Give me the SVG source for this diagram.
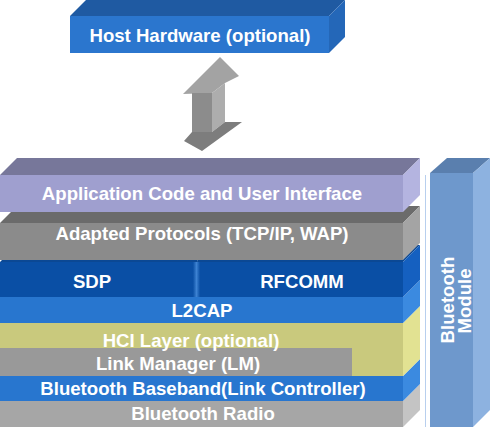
<svg xmlns="http://www.w3.org/2000/svg" width="490" height="427" viewBox="0 0 490 427">
<defs>
<linearGradient id="div" x1="0" y1="0" x2="1" y2="0">
<stop offset="0" stop-color="#0a4fa5"/>
<stop offset="0.5" stop-color="#3d82d2"/>
<stop offset="1" stop-color="#0a4fa5"/>
</linearGradient>
</defs>
<style>
text{font-family:"Liberation Sans",Arial,sans-serif;font-weight:bold;font-size:18.6px;fill:#ffffff;text-anchor:middle}
</style>
<rect width="490" height="427" fill="#ffffff"/>

<g id="host-hardware">
<polygon points="70,16 86,0 345,0 329,16" fill="#1f5aa2"/>
<polygon points="329,16 345,0 345,37 329,53" fill="#2467b8"/>
<rect x="70" y="16" width="259" height="37" fill="#2b76ce"/>
<text x="200" y="42">Host Hardware (optional)</text>
</g>

<g id="connectors">
<g id="host-stack-arrow">
<polygon points="183,94 220,57 239,76 225,83 212,93" fill="#a3a3a3"/>
<rect x="192" y="93" width="20" height="40" fill="#8c8c8c"/>
<polygon points="212,93 225,83 225,122 212,132" fill="#adadad"/>
<polygon points="184,141 192,132 212,132 225,122 242,122 202,151" fill="#7d7d7d"/>
</g>
</g>

<g id="bluetooth-radio">
<polygon points="403,401 420,384 420,410 403,427" fill="#c4c4c4"/>
<rect x="0" y="401" width="403" height="26" fill="#a6a6a6"/>
<text x="203" y="420">Bluetooth Radio</text>
</g>

<g id="bluetooth-baseband">
<polygon points="403,376 420,359 420,384 403,401" fill="#3b8ae0"/>
<rect x="0" y="376" width="403" height="25" fill="#2876cf"/>
<text x="203" y="395">Bluetooth Baseband(Link Controller)</text>
</g>

<g id="hci-layer">
<polygon points="403,323 420,306 420,359 403,376" fill="#e2e292"/>
<rect x="0" y="323" width="403" height="53" fill="#c9c97d"/>
</g>

<g id="link-manager">
<rect x="0" y="348" width="352" height="28" fill="#999999"/>
<text x="178" y="370">Link Manager (LM)</text>
</g>

<g id="hci-label">
<text x="191" y="347">HCI Layer (optional)</text>
</g>

<g id="l2cap">
<polygon points="403,297 420,280 420,306 403,323" fill="#3b8ae0"/>
<rect x="0" y="297" width="403" height="26" fill="#2876cf"/>
<text x="202" y="317">L2CAP</text>
</g>

<g id="sdp">
<polygon points="0,262 17,245 200,245 197,262" fill="#0b4894"/>
<rect x="0" y="262" width="197" height="35" fill="#0a4fa5"/>
<text x="92" y="288">SDP</text>
</g>

<g id="rfcomm">
<polygon points="197,262 200,245 420,245 403,262" fill="#0b4894"/>
<polygon points="403,262 420,245 420,280 403,297" fill="#1560c0"/>
<rect x="197" y="262" width="206" height="35" fill="#0a4fa5"/>
<rect x="193" y="262" width="7" height="35" fill="url(#div)"/>
<text x="302" y="288">RFCOMM</text>
</g>

<g id="adapted-protocols">
<polygon points="0,223 17,206 420,206 403,223" fill="#6b6b6b"/>
<polygon points="403,223 420,206 420,243 403,260" fill="#a4a4a4"/>
<rect x="0" y="223" width="403" height="37" fill="#8b8b8b"/>
<text x="202" y="240">Adapted Protocols (TCP/IP, WAP)</text>
</g>

<g id="application-code">
<polygon points="0,175 17,158 420,158 403,175" fill="#77779a"/>
<polygon points="403,175 420,158 420,195 403,212" fill="#b4b4e0"/>
<rect x="0" y="175" width="403" height="37" fill="#9f9fcf"/>
<text x="202" y="200">Application Code and User Interface</text>
</g>

<g id="bluetooth-module">
<line x1="425.5" y1="175" x2="425.5" y2="427" stroke="#b8cfee" stroke-width="1"/>
<polygon points="430,173 447,158 490,158 473,173" fill="#5a7fae"/>
<polygon points="473,173 490,158 490,410 473,427" fill="#8db2e0"/>
<rect x="430" y="173" width="43" height="254" fill="#6e98cc"/>
<text transform="translate(454,300) rotate(-90)">Bluetooth</text>
<text transform="translate(471,301) rotate(-90)">Module</text>
</g>
</svg>
